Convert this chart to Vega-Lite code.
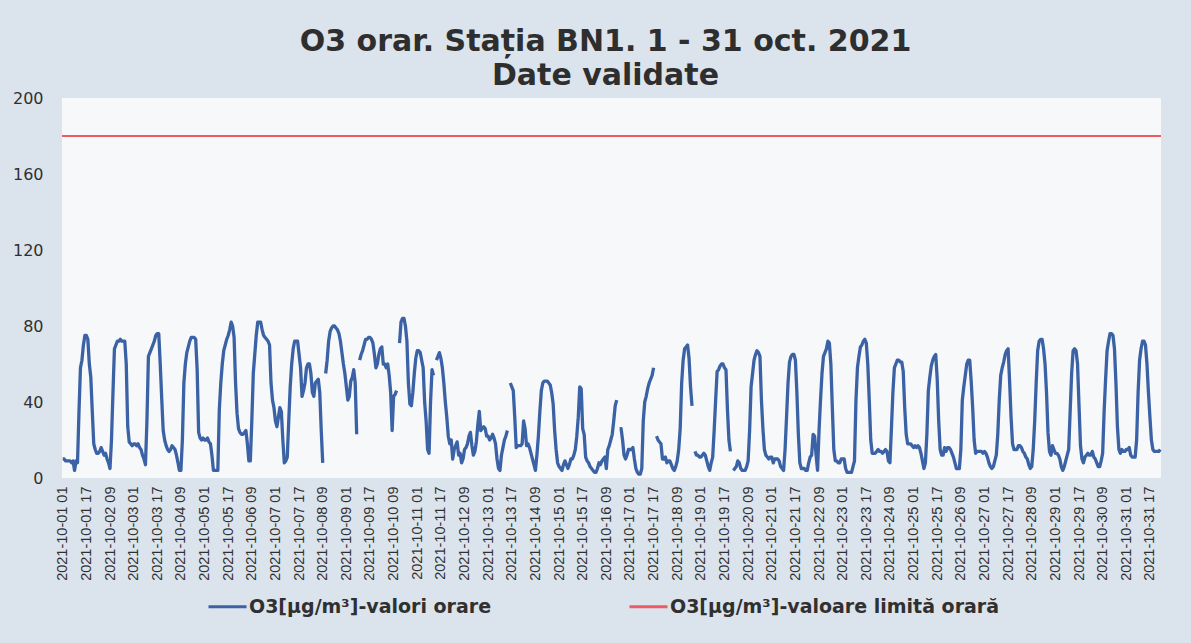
{
"$schema":"https://vega.github.io/schema/vega-lite/v6.json",
"width":1099,"height":380,
"autosize":{"type":"none"},
"padding":{"left":62,"top":98,"right":30,"bottom":165},
"background":"#dbe3ec",
"view":{"fill":"#f7f8fa","stroke":null},
"config":{"font":"DejaVu Sans"},
"title":{"text":["O3 orar. Stația BN1. 1 - 31 oct. 2021","Date validate"],"font":"DejaVu Sans","fontSize":30,"fontWeight":"bold","color":"#2e2e2e","anchor":"middle","offset":-1,"lineHeight":34,"dx":-6},
"layer":[
{"data":{"values":[
{"t":"2021-10-01 01","v":10},{"t":"2021-10-01 02","v":10},{"t":"2021-10-01 03","v":9},{"t":"2021-10-01 04","v":9},{"t":"2021-10-01 05","v":9},{"t":"2021-10-01 06","v":9},{"t":"2021-10-01 07","v":8},{"t":"2021-10-01 08","v":9},{"t":"2021-10-01 09","v":4},{"t":"2021-10-01 10","v":9},{"t":"2021-10-01 11","v":8},{"t":"2021-10-01 12","v":35},{"t":"2021-10-01 13","v":58},{"t":"2021-10-01 14","v":62},{"t":"2021-10-01 15","v":70},{"t":"2021-10-01 16","v":75},{"t":"2021-10-01 17","v":75},{"t":"2021-10-01 18","v":73},{"t":"2021-10-01 19","v":60},{"t":"2021-10-01 20","v":53},{"t":"2021-10-01 21","v":35},{"t":"2021-10-01 22","v":18},{"t":"2021-10-01 23","v":15},{"t":"2021-10-01 24","v":13},
{"t":"2021-10-02 01","v":13},{"t":"2021-10-02 02","v":14},{"t":"2021-10-02 03","v":16},{"t":"2021-10-02 04","v":14},{"t":"2021-10-02 05","v":12},{"t":"2021-10-02 06","v":13},{"t":"2021-10-02 07","v":10},{"t":"2021-10-02 08","v":8},{"t":"2021-10-02 09","v":5},{"t":"2021-10-02 10","v":20},{"t":"2021-10-02 11","v":45},{"t":"2021-10-02 12","v":68},{"t":"2021-10-02 13","v":70},{"t":"2021-10-02 14","v":72},{"t":"2021-10-02 15","v":72},{"t":"2021-10-02 16","v":73},{"t":"2021-10-02 17","v":72},{"t":"2021-10-02 18","v":72},{"t":"2021-10-02 19","v":72},{"t":"2021-10-02 20","v":60},{"t":"2021-10-02 21","v":27},{"t":"2021-10-02 22","v":19},{"t":"2021-10-02 23","v":18},{"t":"2021-10-02 24","v":17},
{"t":"2021-10-03 01","v":18},{"t":"2021-10-03 02","v":18},{"t":"2021-10-03 03","v":17},{"t":"2021-10-03 04","v":18},{"t":"2021-10-03 05","v":16},{"t":"2021-10-03 06","v":15},{"t":"2021-10-03 07","v":12},{"t":"2021-10-03 08","v":10},{"t":"2021-10-03 09","v":7},{"t":"2021-10-03 10","v":30},{"t":"2021-10-03 11","v":64},{"t":"2021-10-03 12","v":66},{"t":"2021-10-03 13","v":68},{"t":"2021-10-03 14","v":70},{"t":"2021-10-03 15","v":72},{"t":"2021-10-03 16","v":75},{"t":"2021-10-03 17","v":76},{"t":"2021-10-03 18","v":76},{"t":"2021-10-03 19","v":60},{"t":"2021-10-03 20","v":42},{"t":"2021-10-03 21","v":25},{"t":"2021-10-03 22","v":20},{"t":"2021-10-03 23","v":17},{"t":"2021-10-03 24","v":15},
{"t":"2021-10-04 01","v":14},{"t":"2021-10-04 02","v":15},{"t":"2021-10-04 03","v":17},{"t":"2021-10-04 04","v":16},{"t":"2021-10-04 05","v":15},{"t":"2021-10-04 06","v":12},{"t":"2021-10-04 07","v":8},{"t":"2021-10-04 08","v":4},{"t":"2021-10-04 09","v":4},{"t":"2021-10-04 10","v":20},{"t":"2021-10-04 11","v":50},{"t":"2021-10-04 12","v":60},{"t":"2021-10-04 13","v":66},{"t":"2021-10-04 14","v":69},{"t":"2021-10-04 15","v":72},{"t":"2021-10-04 16","v":74},{"t":"2021-10-04 17","v":74},{"t":"2021-10-04 18","v":74},{"t":"2021-10-04 19","v":73},{"t":"2021-10-04 20","v":57},{"t":"2021-10-04 21","v":24},{"t":"2021-10-04 22","v":21},{"t":"2021-10-04 23","v":20},{"t":"2021-10-04 24","v":21},
{"t":"2021-10-05 01","v":20},{"t":"2021-10-05 02","v":20},{"t":"2021-10-05 03","v":21},{"t":"2021-10-05 04","v":19},{"t":"2021-10-05 05","v":18},{"t":"2021-10-05 06","v":12},{"t":"2021-10-05 07","v":4},{"t":"2021-10-05 08","v":4},{"t":"2021-10-05 09","v":4},{"t":"2021-10-05 10","v":4},{"t":"2021-10-05 11","v":36},{"t":"2021-10-05 12","v":50},{"t":"2021-10-05 13","v":60},{"t":"2021-10-05 14","v":67},{"t":"2021-10-05 15","v":70},{"t":"2021-10-05 16","v":73},{"t":"2021-10-05 17","v":75},{"t":"2021-10-05 18","v":78},{"t":"2021-10-05 19","v":82},{"t":"2021-10-05 20","v":80},{"t":"2021-10-05 21","v":74},{"t":"2021-10-05 22","v":50},{"t":"2021-10-05 23","v":34},{"t":"2021-10-05 24","v":26},
{"t":"2021-10-06 01","v":24},{"t":"2021-10-06 02","v":23},{"t":"2021-10-06 03","v":23},{"t":"2021-10-06 04","v":24},{"t":"2021-10-06 05","v":25},{"t":"2021-10-06 06","v":18},{"t":"2021-10-06 07","v":9},{"t":"2021-10-06 08","v":9},{"t":"2021-10-06 09","v":30},{"t":"2021-10-06 10","v":55},{"t":"2021-10-06 11","v":65},{"t":"2021-10-06 12","v":75},{"t":"2021-10-06 13","v":82},{"t":"2021-10-06 14","v":82},{"t":"2021-10-06 15","v":82},{"t":"2021-10-06 16","v":78},{"t":"2021-10-06 17","v":75},{"t":"2021-10-06 18","v":74},{"t":"2021-10-06 19","v":73},{"t":"2021-10-06 20","v":72},{"t":"2021-10-06 21","v":70},{"t":"2021-10-06 22","v":50},{"t":"2021-10-06 23","v":41},{"t":"2021-10-06 24","v":37},
{"t":"2021-10-07 01","v":30},{"t":"2021-10-07 02","v":27},{"t":"2021-10-07 03","v":32},{"t":"2021-10-07 04","v":37},{"t":"2021-10-07 05","v":35},{"t":"2021-10-07 06","v":20},{"t":"2021-10-07 07","v":8},{"t":"2021-10-07 08","v":9},{"t":"2021-10-07 09","v":11},{"t":"2021-10-07 10","v":30},{"t":"2021-10-07 11","v":48},{"t":"2021-10-07 12","v":60},{"t":"2021-10-07 13","v":68},{"t":"2021-10-07 14","v":72},{"t":"2021-10-07 15","v":72},{"t":"2021-10-07 16","v":72},{"t":"2021-10-07 17","v":65},{"t":"2021-10-07 18","v":58},{"t":"2021-10-07 19","v":43},{"t":"2021-10-07 20","v":46},{"t":"2021-10-07 21","v":50},{"t":"2021-10-07 22","v":58},{"t":"2021-10-07 23","v":60},{"t":"2021-10-07 24","v":60},
{"t":"2021-10-08 01","v":55},{"t":"2021-10-08 02","v":45},{"t":"2021-10-08 03","v":43},{"t":"2021-10-08 04","v":50},{"t":"2021-10-08 05","v":51},{"t":"2021-10-08 06","v":52},{"t":"2021-10-08 07","v":45},{"t":"2021-10-08 08","v":25},{"t":"2021-10-08 09","v":8},{"t":"2021-10-08 10","v":null},{"t":"2021-10-08 11","v":55},{"t":"2021-10-08 12","v":62},{"t":"2021-10-08 13","v":72},{"t":"2021-10-08 14","v":77},{"t":"2021-10-08 15","v":79},{"t":"2021-10-08 16","v":80},{"t":"2021-10-08 17","v":80},{"t":"2021-10-08 18","v":79},{"t":"2021-10-08 19","v":78},{"t":"2021-10-08 20","v":76},{"t":"2021-10-08 21","v":72},{"t":"2021-10-08 22","v":66},{"t":"2021-10-08 23","v":60},{"t":"2021-10-08 24","v":55},
{"t":"2021-10-09 01","v":48},{"t":"2021-10-09 02","v":41},{"t":"2021-10-09 03","v":43},{"t":"2021-10-09 04","v":51},{"t":"2021-10-09 05","v":53},{"t":"2021-10-09 06","v":57},{"t":"2021-10-09 07","v":50},{"t":"2021-10-09 08","v":23},{"t":"2021-10-09 09","v":null},{"t":"2021-10-09 10","v":62},{"t":"2021-10-09 11","v":65},{"t":"2021-10-09 12","v":67},{"t":"2021-10-09 13","v":70},{"t":"2021-10-09 14","v":73},{"t":"2021-10-09 15","v":73},{"t":"2021-10-09 16","v":74},{"t":"2021-10-09 17","v":74},{"t":"2021-10-09 18","v":73},{"t":"2021-10-09 19","v":71},{"t":"2021-10-09 20","v":65},{"t":"2021-10-09 21","v":58},{"t":"2021-10-09 22","v":60},{"t":"2021-10-09 23","v":65},{"t":"2021-10-09 24","v":68},
{"t":"2021-10-10 01","v":69},{"t":"2021-10-10 02","v":60},{"t":"2021-10-10 03","v":60},{"t":"2021-10-10 04","v":58},{"t":"2021-10-10 05","v":60},{"t":"2021-10-10 06","v":54},{"t":"2021-10-10 07","v":45},{"t":"2021-10-10 08","v":25},{"t":"2021-10-10 09","v":43},{"t":"2021-10-10 10","v":44},{"t":"2021-10-10 11","v":46},{"t":"2021-10-10 12","v":null},{"t":"2021-10-10 13","v":71},{"t":"2021-10-10 14","v":82},{"t":"2021-10-10 15","v":84},{"t":"2021-10-10 16","v":84},{"t":"2021-10-10 17","v":80},{"t":"2021-10-10 18","v":72},{"t":"2021-10-10 19","v":50},{"t":"2021-10-10 20","v":39},{"t":"2021-10-10 21","v":38},{"t":"2021-10-10 22","v":45},{"t":"2021-10-10 23","v":55},{"t":"2021-10-10 24","v":63},
{"t":"2021-10-11 01","v":67},{"t":"2021-10-11 02","v":67},{"t":"2021-10-11 03","v":66},{"t":"2021-10-11 04","v":62},{"t":"2021-10-11 05","v":58},{"t":"2021-10-11 06","v":40},{"t":"2021-10-11 07","v":30},{"t":"2021-10-11 08","v":15},{"t":"2021-10-11 09","v":13},{"t":"2021-10-11 10","v":40},{"t":"2021-10-11 11","v":57},{"t":"2021-10-11 12","v":54},{"t":"2021-10-11 13","v":null},{"t":"2021-10-11 14","v":62},{"t":"2021-10-11 15","v":64},{"t":"2021-10-11 16","v":66},{"t":"2021-10-11 17","v":63},{"t":"2021-10-11 18","v":58},{"t":"2021-10-11 19","v":50},{"t":"2021-10-11 20","v":40},{"t":"2021-10-11 21","v":32},{"t":"2021-10-11 22","v":22},{"t":"2021-10-11 23","v":18},{"t":"2021-10-11 24","v":20},
{"t":"2021-10-12 01","v":10},{"t":"2021-10-12 02","v":15},{"t":"2021-10-12 03","v":17},{"t":"2021-10-12 04","v":19},{"t":"2021-10-12 05","v":12},{"t":"2021-10-12 06","v":13},{"t":"2021-10-12 07","v":8},{"t":"2021-10-12 08","v":10},{"t":"2021-10-12 09","v":15},{"t":"2021-10-12 10","v":16},{"t":"2021-10-12 11","v":18},{"t":"2021-10-12 12","v":22},{"t":"2021-10-12 13","v":24},{"t":"2021-10-12 14","v":17},{"t":"2021-10-12 15","v":12},{"t":"2021-10-12 16","v":14},{"t":"2021-10-12 17","v":19},{"t":"2021-10-12 18","v":28},{"t":"2021-10-12 19","v":35},{"t":"2021-10-12 20","v":25},{"t":"2021-10-12 21","v":26},{"t":"2021-10-12 22","v":27},{"t":"2021-10-12 23","v":26},{"t":"2021-10-12 24","v":22},
{"t":"2021-10-13 01","v":22},{"t":"2021-10-13 02","v":20},{"t":"2021-10-13 03","v":21},{"t":"2021-10-13 04","v":23},{"t":"2021-10-13 05","v":21},{"t":"2021-10-13 06","v":18},{"t":"2021-10-13 07","v":10},{"t":"2021-10-13 08","v":5},{"t":"2021-10-13 09","v":4},{"t":"2021-10-13 10","v":12},{"t":"2021-10-13 11","v":16},{"t":"2021-10-13 12","v":20},{"t":"2021-10-13 13","v":22},{"t":"2021-10-13 14","v":25},{"t":"2021-10-13 15","v":null},{"t":"2021-10-13 16","v":50},{"t":"2021-10-13 17","v":48},{"t":"2021-10-13 18","v":46},{"t":"2021-10-13 19","v":32},{"t":"2021-10-13 20","v":16},{"t":"2021-10-13 21","v":17},{"t":"2021-10-13 22","v":17},{"t":"2021-10-13 23","v":17},{"t":"2021-10-13 24","v":18},
{"t":"2021-10-14 01","v":30},{"t":"2021-10-14 02","v":26},{"t":"2021-10-14 03","v":17},{"t":"2021-10-14 04","v":18},{"t":"2021-10-14 05","v":16},{"t":"2021-10-14 06","v":13},{"t":"2021-10-14 07","v":10},{"t":"2021-10-14 08","v":7},{"t":"2021-10-14 09","v":4},{"t":"2021-10-14 10","v":12},{"t":"2021-10-14 11","v":22},{"t":"2021-10-14 12","v":35},{"t":"2021-10-14 13","v":46},{"t":"2021-10-14 14","v":50},{"t":"2021-10-14 15","v":51},{"t":"2021-10-14 16","v":51},{"t":"2021-10-14 17","v":51},{"t":"2021-10-14 18","v":50},{"t":"2021-10-14 19","v":49},{"t":"2021-10-14 20","v":45},{"t":"2021-10-14 21","v":39},{"t":"2021-10-14 22","v":25},{"t":"2021-10-14 23","v":15},{"t":"2021-10-14 24","v":8},
{"t":"2021-10-15 01","v":6},{"t":"2021-10-15 02","v":5},{"t":"2021-10-15 03","v":4},{"t":"2021-10-15 04","v":7},{"t":"2021-10-15 05","v":9},{"t":"2021-10-15 06","v":7},{"t":"2021-10-15 07","v":5},{"t":"2021-10-15 08","v":7},{"t":"2021-10-15 09","v":10},{"t":"2021-10-15 10","v":10},{"t":"2021-10-15 11","v":12},{"t":"2021-10-15 12","v":15},{"t":"2021-10-15 13","v":22},{"t":"2021-10-15 14","v":32},{"t":"2021-10-15 15","v":48},{"t":"2021-10-15 16","v":47},{"t":"2021-10-15 17","v":26},{"t":"2021-10-15 18","v":23},{"t":"2021-10-15 19","v":11},{"t":"2021-10-15 20","v":9},{"t":"2021-10-15 21","v":8},{"t":"2021-10-15 22","v":6},{"t":"2021-10-15 23","v":5},{"t":"2021-10-15 24","v":4},
{"t":"2021-10-16 01","v":3},{"t":"2021-10-16 02","v":3},{"t":"2021-10-16 03","v":5},{"t":"2021-10-16 04","v":8},{"t":"2021-10-16 05","v":7},{"t":"2021-10-16 06","v":9},{"t":"2021-10-16 07","v":10},{"t":"2021-10-16 08","v":11},{"t":"2021-10-16 09","v":5},{"t":"2021-10-16 10","v":15},{"t":"2021-10-16 11","v":17},{"t":"2021-10-16 12","v":20},{"t":"2021-10-16 13","v":23},{"t":"2021-10-16 14","v":30},{"t":"2021-10-16 15","v":38},{"t":"2021-10-16 16","v":41},{"t":"2021-10-16 17","v":null},{"t":"2021-10-16 18","v":26},{"t":"2021-10-16 19","v":26},{"t":"2021-10-16 20","v":20},{"t":"2021-10-16 21","v":12},{"t":"2021-10-16 22","v":10},{"t":"2021-10-16 23","v":12},{"t":"2021-10-16 24","v":15},
{"t":"2021-10-17 01","v":15},{"t":"2021-10-17 02","v":15},{"t":"2021-10-17 03","v":16},{"t":"2021-10-17 04","v":10},{"t":"2021-10-17 05","v":5},{"t":"2021-10-17 06","v":3},{"t":"2021-10-17 07","v":2},{"t":"2021-10-17 08","v":2},{"t":"2021-10-17 09","v":5},{"t":"2021-10-17 10","v":30},{"t":"2021-10-17 11","v":40},{"t":"2021-10-17 12","v":43},{"t":"2021-10-17 13","v":47},{"t":"2021-10-17 14","v":50},{"t":"2021-10-17 15","v":52},{"t":"2021-10-17 16","v":54},{"t":"2021-10-17 17","v":58},{"t":"2021-10-17 18","v":null},{"t":"2021-10-17 19","v":22},{"t":"2021-10-17 20","v":20},{"t":"2021-10-17 21","v":19},{"t":"2021-10-17 22","v":18},{"t":"2021-10-17 23","v":10},{"t":"2021-10-17 24","v":10},
{"t":"2021-10-18 01","v":11},{"t":"2021-10-18 02","v":8},{"t":"2021-10-18 03","v":9},{"t":"2021-10-18 04","v":9},{"t":"2021-10-18 05","v":7},{"t":"2021-10-18 06","v":5},{"t":"2021-10-18 07","v":4},{"t":"2021-10-18 08","v":6},{"t":"2021-10-18 09","v":9},{"t":"2021-10-18 10","v":15},{"t":"2021-10-18 11","v":26},{"t":"2021-10-18 12","v":50},{"t":"2021-10-18 13","v":62},{"t":"2021-10-18 14","v":68},{"t":"2021-10-18 15","v":69},{"t":"2021-10-18 16","v":70},{"t":"2021-10-18 17","v":63},{"t":"2021-10-18 18","v":48},{"t":"2021-10-18 19","v":38},{"t":"2021-10-18 20","v":null},{"t":"2021-10-18 21","v":14},{"t":"2021-10-18 22","v":12},{"t":"2021-10-18 23","v":12},{"t":"2021-10-18 24","v":11},
{"t":"2021-10-19 01","v":11},{"t":"2021-10-19 02","v":12},{"t":"2021-10-19 03","v":13},{"t":"2021-10-19 04","v":12},{"t":"2021-10-19 05","v":9},{"t":"2021-10-19 06","v":6},{"t":"2021-10-19 07","v":4},{"t":"2021-10-19 08","v":8},{"t":"2021-10-19 09","v":11},{"t":"2021-10-19 10","v":25},{"t":"2021-10-19 11","v":41},{"t":"2021-10-19 12","v":56},{"t":"2021-10-19 13","v":57},{"t":"2021-10-19 14","v":59},{"t":"2021-10-19 15","v":60},{"t":"2021-10-19 16","v":60},{"t":"2021-10-19 17","v":58},{"t":"2021-10-19 18","v":57},{"t":"2021-10-19 19","v":36},{"t":"2021-10-19 20","v":20},{"t":"2021-10-19 21","v":14},{"t":"2021-10-19 22","v":null},{"t":"2021-10-19 23","v":4},{"t":"2021-10-19 24","v":5},
{"t":"2021-10-20 01","v":6},{"t":"2021-10-20 02","v":9},{"t":"2021-10-20 03","v":8},{"t":"2021-10-20 04","v":5},{"t":"2021-10-20 05","v":4},{"t":"2021-10-20 06","v":4},{"t":"2021-10-20 07","v":4},{"t":"2021-10-20 08","v":6},{"t":"2021-10-20 09","v":9},{"t":"2021-10-20 10","v":25},{"t":"2021-10-20 11","v":48},{"t":"2021-10-20 12","v":55},{"t":"2021-10-20 13","v":62},{"t":"2021-10-20 14","v":65},{"t":"2021-10-20 15","v":67},{"t":"2021-10-20 16","v":66},{"t":"2021-10-20 17","v":64},{"t":"2021-10-20 18","v":41},{"t":"2021-10-20 19","v":26},{"t":"2021-10-20 20","v":15},{"t":"2021-10-20 21","v":12},{"t":"2021-10-20 22","v":11},{"t":"2021-10-20 23","v":10},{"t":"2021-10-20 24","v":11},
{"t":"2021-10-21 01","v":11},{"t":"2021-10-21 02","v":8},{"t":"2021-10-21 03","v":10},{"t":"2021-10-21 04","v":10},{"t":"2021-10-21 05","v":10},{"t":"2021-10-21 06","v":9},{"t":"2021-10-21 07","v":6},{"t":"2021-10-21 08","v":5},{"t":"2021-10-21 09","v":4},{"t":"2021-10-21 10","v":15},{"t":"2021-10-21 11","v":32},{"t":"2021-10-21 12","v":50},{"t":"2021-10-21 13","v":61},{"t":"2021-10-21 14","v":64},{"t":"2021-10-21 15","v":65},{"t":"2021-10-21 16","v":65},{"t":"2021-10-21 17","v":62},{"t":"2021-10-21 18","v":45},{"t":"2021-10-21 19","v":23},{"t":"2021-10-21 20","v":8},{"t":"2021-10-21 21","v":5},{"t":"2021-10-21 22","v":5},{"t":"2021-10-21 23","v":5},{"t":"2021-10-21 24","v":4},
{"t":"2021-10-22 01","v":4},{"t":"2021-10-22 02","v":8},{"t":"2021-10-22 03","v":11},{"t":"2021-10-22 04","v":12},{"t":"2021-10-22 05","v":23},{"t":"2021-10-22 06","v":22},{"t":"2021-10-22 07","v":12},{"t":"2021-10-22 08","v":4},{"t":"2021-10-22 09","v":25},{"t":"2021-10-22 10","v":41},{"t":"2021-10-22 11","v":55},{"t":"2021-10-22 12","v":64},{"t":"2021-10-22 13","v":66},{"t":"2021-10-22 14","v":68},{"t":"2021-10-22 15","v":72},{"t":"2021-10-22 16","v":71},{"t":"2021-10-22 17","v":60},{"t":"2021-10-22 18","v":37},{"t":"2021-10-22 19","v":15},{"t":"2021-10-22 20","v":9},{"t":"2021-10-22 21","v":9},{"t":"2021-10-22 22","v":8},{"t":"2021-10-22 23","v":8},{"t":"2021-10-22 24","v":10},
{"t":"2021-10-23 01","v":10},{"t":"2021-10-23 02","v":10},{"t":"2021-10-23 03","v":5},{"t":"2021-10-23 04","v":3},{"t":"2021-10-23 05","v":3},{"t":"2021-10-23 06","v":3},{"t":"2021-10-23 07","v":3},{"t":"2021-10-23 08","v":6},{"t":"2021-10-23 09","v":9},{"t":"2021-10-23 10","v":41},{"t":"2021-10-23 11","v":58},{"t":"2021-10-23 12","v":64},{"t":"2021-10-23 13","v":69},{"t":"2021-10-23 14","v":70},{"t":"2021-10-23 15","v":72},{"t":"2021-10-23 16","v":73},{"t":"2021-10-23 17","v":71},{"t":"2021-10-23 18","v":60},{"t":"2021-10-23 19","v":41},{"t":"2021-10-23 20","v":20},{"t":"2021-10-23 21","v":13},{"t":"2021-10-23 22","v":13},{"t":"2021-10-23 23","v":13},{"t":"2021-10-23 24","v":14},
{"t":"2021-10-24 01","v":15},{"t":"2021-10-24 02","v":14},{"t":"2021-10-24 03","v":14},{"t":"2021-10-24 04","v":13},{"t":"2021-10-24 05","v":14},{"t":"2021-10-24 06","v":15},{"t":"2021-10-24 07","v":14},{"t":"2021-10-24 08","v":9},{"t":"2021-10-24 09","v":8},{"t":"2021-10-24 10","v":26},{"t":"2021-10-24 11","v":45},{"t":"2021-10-24 12","v":58},{"t":"2021-10-24 13","v":60},{"t":"2021-10-24 14","v":62},{"t":"2021-10-24 15","v":62},{"t":"2021-10-24 16","v":61},{"t":"2021-10-24 17","v":61},{"t":"2021-10-24 18","v":56},{"t":"2021-10-24 19","v":37},{"t":"2021-10-24 20","v":23},{"t":"2021-10-24 21","v":18},{"t":"2021-10-24 22","v":18},{"t":"2021-10-24 23","v":18},{"t":"2021-10-24 24","v":17},
{"t":"2021-10-25 01","v":16},{"t":"2021-10-25 02","v":17},{"t":"2021-10-25 03","v":16},{"t":"2021-10-25 04","v":17},{"t":"2021-10-25 05","v":16},{"t":"2021-10-25 06","v":13},{"t":"2021-10-25 07","v":9},{"t":"2021-10-25 08","v":5},{"t":"2021-10-25 09","v":8},{"t":"2021-10-25 10","v":23},{"t":"2021-10-25 11","v":46},{"t":"2021-10-25 12","v":53},{"t":"2021-10-25 13","v":59},{"t":"2021-10-25 14","v":62},{"t":"2021-10-25 15","v":64},{"t":"2021-10-25 16","v":65},{"t":"2021-10-25 17","v":52},{"t":"2021-10-25 18","v":30},{"t":"2021-10-25 19","v":15},{"t":"2021-10-25 20","v":12},{"t":"2021-10-25 21","v":12},{"t":"2021-10-25 22","v":16},{"t":"2021-10-25 23","v":14},{"t":"2021-10-25 24","v":16},
{"t":"2021-10-26 01","v":16},{"t":"2021-10-26 02","v":15},{"t":"2021-10-26 03","v":13},{"t":"2021-10-26 04","v":11},{"t":"2021-10-26 05","v":8},{"t":"2021-10-26 06","v":5},{"t":"2021-10-26 07","v":5},{"t":"2021-10-26 08","v":5},{"t":"2021-10-26 09","v":15},{"t":"2021-10-26 10","v":41},{"t":"2021-10-26 11","v":48},{"t":"2021-10-26 12","v":54},{"t":"2021-10-26 13","v":60},{"t":"2021-10-26 14","v":62},{"t":"2021-10-26 15","v":62},{"t":"2021-10-26 16","v":51},{"t":"2021-10-26 17","v":37},{"t":"2021-10-26 18","v":20},{"t":"2021-10-26 19","v":13},{"t":"2021-10-26 20","v":14},{"t":"2021-10-26 21","v":14},{"t":"2021-10-26 22","v":14},{"t":"2021-10-26 23","v":14},{"t":"2021-10-26 24","v":13},
{"t":"2021-10-27 01","v":14},{"t":"2021-10-27 02","v":13},{"t":"2021-10-27 03","v":11},{"t":"2021-10-27 04","v":8},{"t":"2021-10-27 05","v":6},{"t":"2021-10-27 06","v":5},{"t":"2021-10-27 07","v":6},{"t":"2021-10-27 08","v":9},{"t":"2021-10-27 09","v":12},{"t":"2021-10-27 10","v":23},{"t":"2021-10-27 11","v":41},{"t":"2021-10-27 12","v":54},{"t":"2021-10-27 13","v":58},{"t":"2021-10-27 14","v":61},{"t":"2021-10-27 15","v":65},{"t":"2021-10-27 16","v":67},{"t":"2021-10-27 17","v":68},{"t":"2021-10-27 18","v":51},{"t":"2021-10-27 19","v":32},{"t":"2021-10-27 20","v":18},{"t":"2021-10-27 21","v":15},{"t":"2021-10-27 22","v":15},{"t":"2021-10-27 23","v":15},{"t":"2021-10-27 24","v":17},
{"t":"2021-10-28 01","v":17},{"t":"2021-10-28 02","v":16},{"t":"2021-10-28 03","v":14},{"t":"2021-10-28 04","v":13},{"t":"2021-10-28 05","v":11},{"t":"2021-10-28 06","v":10},{"t":"2021-10-28 07","v":7},{"t":"2021-10-28 08","v":5},{"t":"2021-10-28 09","v":6},{"t":"2021-10-28 10","v":15},{"t":"2021-10-28 11","v":30},{"t":"2021-10-28 12","v":50},{"t":"2021-10-28 13","v":67},{"t":"2021-10-28 14","v":72},{"t":"2021-10-28 15","v":73},{"t":"2021-10-28 16","v":73},{"t":"2021-10-28 17","v":68},{"t":"2021-10-28 18","v":60},{"t":"2021-10-28 19","v":45},{"t":"2021-10-28 20","v":24},{"t":"2021-10-28 21","v":14},{"t":"2021-10-28 22","v":12},{"t":"2021-10-28 23","v":17},{"t":"2021-10-28 24","v":15},
{"t":"2021-10-29 01","v":13},{"t":"2021-10-29 02","v":13},{"t":"2021-10-29 03","v":12},{"t":"2021-10-29 04","v":10},{"t":"2021-10-29 05","v":6},{"t":"2021-10-29 06","v":4},{"t":"2021-10-29 07","v":6},{"t":"2021-10-29 08","v":9},{"t":"2021-10-29 09","v":12},{"t":"2021-10-29 10","v":15},{"t":"2021-10-29 11","v":35},{"t":"2021-10-29 12","v":55},{"t":"2021-10-29 13","v":67},{"t":"2021-10-29 14","v":68},{"t":"2021-10-29 15","v":67},{"t":"2021-10-29 16","v":60},{"t":"2021-10-29 17","v":38},{"t":"2021-10-29 18","v":17},{"t":"2021-10-29 19","v":10},{"t":"2021-10-29 20","v":8},{"t":"2021-10-29 21","v":11},{"t":"2021-10-29 22","v":12},{"t":"2021-10-29 23","v":13},{"t":"2021-10-29 24","v":12},
{"t":"2021-10-30 01","v":12},{"t":"2021-10-30 02","v":14},{"t":"2021-10-30 03","v":11},{"t":"2021-10-30 04","v":10},{"t":"2021-10-30 05","v":8},{"t":"2021-10-30 06","v":6},{"t":"2021-10-30 07","v":6},{"t":"2021-10-30 08","v":9},{"t":"2021-10-30 09","v":13},{"t":"2021-10-30 10","v":35},{"t":"2021-10-30 11","v":52},{"t":"2021-10-30 12","v":67},{"t":"2021-10-30 13","v":72},{"t":"2021-10-30 14","v":76},{"t":"2021-10-30 15","v":76},{"t":"2021-10-30 16","v":75},{"t":"2021-10-30 17","v":68},{"t":"2021-10-30 18","v":50},{"t":"2021-10-30 19","v":27},{"t":"2021-10-30 20","v":15},{"t":"2021-10-30 21","v":13},{"t":"2021-10-30 22","v":15},{"t":"2021-10-30 23","v":14},{"t":"2021-10-30 24","v":14},
{"t":"2021-10-31 01","v":15},{"t":"2021-10-31 02","v":15},{"t":"2021-10-31 03","v":16},{"t":"2021-10-31 04","v":12},{"t":"2021-10-31 05","v":11},{"t":"2021-10-31 06","v":11},{"t":"2021-10-31 07","v":11},{"t":"2021-10-31 08","v":20},{"t":"2021-10-31 09","v":45},{"t":"2021-10-31 10","v":62},{"t":"2021-10-31 11","v":68},{"t":"2021-10-31 12","v":72},{"t":"2021-10-31 13","v":72},{"t":"2021-10-31 14","v":70},{"t":"2021-10-31 15","v":60},{"t":"2021-10-31 16","v":45},{"t":"2021-10-31 17","v":32},{"t":"2021-10-31 18","v":20},{"t":"2021-10-31 19","v":15},{"t":"2021-10-31 20","v":14},{"t":"2021-10-31 21","v":14},{"t":"2021-10-31 22","v":14},{"t":"2021-10-31 23","v":14},{"t":"2021-10-31 24","v":15}
]},
"mark":{"type":"line","strokeWidth":3.3,"invalid":"break-paths-show-domains","strokeJoin":"round"},
"encoding":{
"x":{"field":"t","type":"ordinal","sort":null,"scale":{"type":"point","padding":0.5},
"axis":{"title":null,"labelAngle":-90,"labelFontSize":14.5,"labelColor":"#303030","labelPadding":8,"ticks":false,"domain":false,"grid":false,"labelOverlap":false,"labelFont":"Liberation Sans",
"values":["2021-10-01 01","2021-10-01 17","2021-10-02 09","2021-10-03 01","2021-10-03 17","2021-10-04 09","2021-10-05 01","2021-10-05 17","2021-10-06 09","2021-10-07 01","2021-10-07 17","2021-10-08 09","2021-10-09 01","2021-10-09 17","2021-10-10 09","2021-10-11 01","2021-10-11 17","2021-10-12 09","2021-10-13 01","2021-10-13 17","2021-10-14 09","2021-10-15 01","2021-10-15 17","2021-10-16 09","2021-10-17 01","2021-10-17 17","2021-10-18 09","2021-10-19 01","2021-10-19 17","2021-10-20 09","2021-10-21 01","2021-10-21 17","2021-10-22 09","2021-10-23 01","2021-10-23 17","2021-10-24 09","2021-10-25 01","2021-10-25 17","2021-10-26 09","2021-10-27 01","2021-10-27 17","2021-10-28 09","2021-10-29 01","2021-10-29 17","2021-10-30 09","2021-10-31 01","2021-10-31 17"]}},
"y":{"field":"v","type":"quantitative","scale":{"domain":[0,200],"nice":false},
"axis":{"title":null,"values":[0,20,40,60,80,100,120,140,160,180,200],"labelOverlap":false,"labelFontSize":16,"labelColor":"#303030","labelPadding":19,"ticks":false,"domain":false,"grid":false,"labelFont":"DejaVu Sans"}},
"color":{"datum":"O3[µg/m³]-valori orare","type":"nominal",
"scale":{"domain":["O3[µg/m³]-valori orare","O3[µg/m³]-valoare limită orară"],"range":["#3b62a5","#ee5a64"]},
"legend":{"orient":"none","legendX":145,"legendY":488,"direction":"horizontal","title":null,"symbolType":"stroke","symbolSize":1444,"symbolStrokeWidth":3,"labelFontSize":19,"labelFontWeight":"bold","labelFont":"DejaVu Sans","labelColor":"#303030","labelOffset":1,"columnPadding":131,"labelLimit":500}}
}},
{"data":{"values":[{"lim":180}]},
"mark":{"type":"rule","strokeWidth":2},
"encoding":{"y":{"field":"lim","type":"quantitative"},
"color":{"datum":"O3[µg/m³]-valoare limită orară","type":"nominal"}}}
]
}
